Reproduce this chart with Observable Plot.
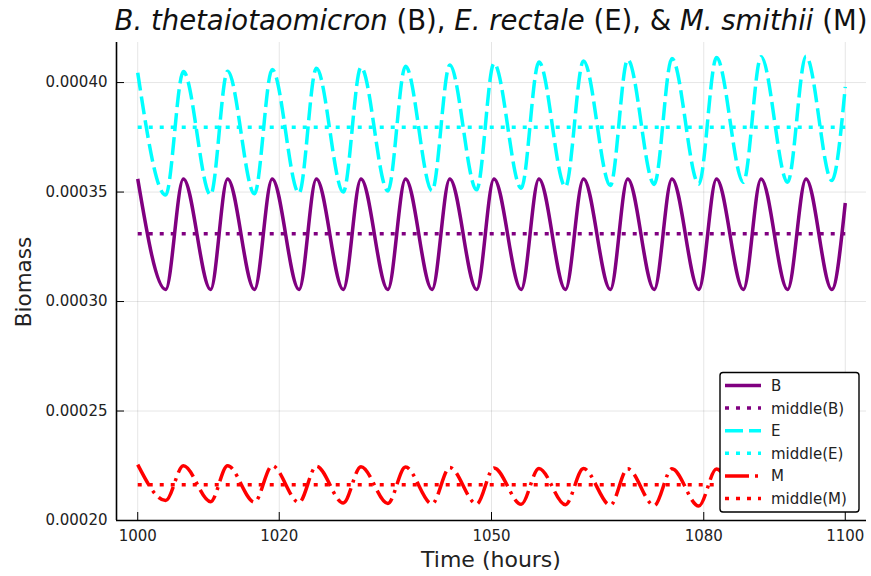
<!DOCTYPE html>
<html><head><meta charset="utf-8">
<script src="https://cdn.jsdelivr.net/npm/d3@7"></script>
<script src="https://cdn.jsdelivr.net/npm/@observablehq/plot@0.6"></script>
<style>body{margin:0;background:#fff} svg{display:block}</style>
</head><body><div id="chart"></div>
<script>
// Extrema times (hours), plus both ends
const hours = [1000, 1003.95, 1006.45, 1010.3, 1012.7, 1016.5, 1019.0, 1022.8, 1025.25, 1029.05, 1031.55, 1035.35, 1037.85, 1041.6, 1044.1, 1047.9, 1050.35, 1054.2, 1056.7, 1060.45, 1063.0, 1066.8, 1069.25, 1073.0, 1075.5, 1079.3, 1081.8, 1085.6, 1088.1, 1091.85, 1094.45, 1098.1, 1100];
const bBiomass = [0.000356, 0.0003055, 0.000356, 0.0003055, 0.000356, 0.0003055, 0.000356, 0.0003055, 0.000356, 0.0003055, 0.000356, 0.0003055, 0.000356, 0.0003055, 0.000356, 0.0003055, 0.000356, 0.0003055, 0.000356, 0.0003055, 0.000356, 0.0003055, 0.000356, 0.0003055, 0.000356, 0.0003055, 0.000356, 0.0003055, 0.000356, 0.0003055, 0.000356, 0.0003055, 0.000345];
const eBiomass = [0.0004045, 0.0003486, 0.000405, 0.0003487, 0.0004052, 0.0003492, 0.000406, 0.0003495, 0.0004065, 0.00035, 0.000407, 0.0003505, 0.0004075, 0.0003506, 0.000408, 0.000351, 0.0004088, 0.0003517, 0.0004094, 0.0003524, 0.0004099, 0.000353, 0.0004105, 0.0003535, 0.000411, 0.0003536, 0.0004114, 0.0003545, 0.0004118, 0.0003545, 0.000412, 0.0003553, 0.000398];
const mBiomass = [0.0002255, 0.0002091, 0.000225, 0.0002086, 0.000225, 0.0002084, 0.000225, 0.0002082, 0.0002248, 0.000208, 0.0002246, 0.0002078, 0.0002244, 0.0002076, 0.0002242, 0.0002075, 0.000224, 0.0002074, 0.0002238, 0.0002072, 0.0002237, 0.000207, 0.0002236, 0.0002068, 0.0002236, 0.0002066, 0.0002235, 0.0002065, 0.0002235, 0.0002065, 0.0002235, 0.0002065, 0.000221];
const middleB = 0.000331, middleE = 0.0003796, middleM = 0.0002163;
const xTicks = [1000, 1020, 1050, 1080, 1100];
const yTicks = [0.0002, 0.00025, 0.0003, 0.00035, 0.0004];
const seriesNames = ["B", "middle(B)", "E", "middle(E)", "M", "middle(M)"];
const seriesColors = ["#800080", "#800080", "#00ffff", "#00ffff", "#ff0000", "#ff0000"];
const seriesDash = [null, "4,7", "18,6", "4,7", "24,6,3,6", "4,7"];
const xDomain = [997, 1103];
const yDomain = [0.0002, 0.0004183];

const rows = (vals) => hours.map((h, i) => ({hour: h, biomass: vals[i]}));
const flat = (v) => [{hour: hours[0], biomass: v}, {hour: hours[hours.length - 1], biomass: v}];
const series = [rows(bBiomass), flat(middleB), rows(eBiomass), flat(middleE), rows(mBiomass), flat(middleM)];

const lineMarks = series.map((data, i) => Plot.line(data, {
  x: "hour", y: "biomass", stroke: seriesColors[i],
  strokeWidth: 3.5,
  strokeDasharray: seriesDash[i] || undefined,
  strokeLinecap: "butt",
  curve: i % 2 === 0 ? "monotone-x" : "linear"
}));

const chart = Plot.plot({
  width: 871, height: 576,
  marginLeft: 116, marginRight: 5, marginTop: 42, marginBottom: 56,
  x: {domain: xDomain, label: null},
  y: {domain: yDomain, label: null},
  style: {fontFamily: "DejaVu Sans", fontSize: "15px", color: "#222", background: "white"},
  marks: [
    Plot.gridX(xTicks, {stroke: "#000", strokeOpacity: 0.1, strokeWidth: 1}),
    Plot.gridY(yTicks, {stroke: "#000", strokeOpacity: 0.1, strokeWidth: 1}),
    ...lineMarks,
    Plot.ruleX([xDomain[0]], {stroke: "#000", strokeWidth: 1.6}),
    Plot.ruleY([yDomain[0]], {stroke: "#000", strokeWidth: 1.6}),
    Plot.axisX(xTicks, {tickSize: -8, tickPadding: 18, tickFormat: d => String(d), label: null, stroke: "#000", fill: "#222"}),
    Plot.axisY(yTicks, {tickSize: -8, tickPadding: 17, tickFormat: d => d.toFixed(5), label: null, stroke: "#000", fill: "#222"})
  ]
});
document.getElementById("chart").appendChild(chart);

const svg = d3.select(chart);
const FONT = "DejaVu Sans";
// Title
const title = svg.append("text").attr("x", 491).attr("y", 30).attr("text-anchor", "middle")
  .style("font-family", FONT).style("font-size", "27.5px").attr("fill", "#111");
[["B. thetaiotaomicron", true], [" (B), ", false], ["E. rectale", true], [" (E), & ", false], ["M. smithii", true], [" (M)", false]]
  .forEach(([t, it]) => title.append("tspan").attr("font-style", it ? "italic" : "normal").text(t));
// Axis labels
svg.append("text").attr("x", 491).attr("y", 567).attr("text-anchor", "middle")
  .style("font-family", FONT).style("font-size", "22px").attr("fill", "#222").text("Time (hours)");
svg.append("text").attr("transform", "translate(31,282) rotate(-90)").attr("text-anchor", "middle")
  .style("font-family", FONT).style("font-size", "21.5px").attr("fill", "#222").text("Biomass");
// Legend
const lg = svg.append("g");
lg.append("rect").attr("x", 720).attr("y", 372.5).attr("width", 139).attr("height", 139.5).attr("rx", 3)
  .attr("fill", "white").attr("stroke", "#000").attr("stroke-width", 1.4);
seriesNames.forEach((name, i) => {
  const cy = 385.5 + i * 22.6;
  lg.append("line").attr("x1", 725).attr("x2", 761).attr("y1", cy).attr("y2", cy)
    .attr("stroke", seriesColors[i]).attr("stroke-width", 3.5)
    .attr("stroke-dasharray", seriesDash[i]);
  lg.append("text").attr("x", 771).attr("y", cy).attr("dy", "0.36em").attr("text-anchor", "start")
    .style("font-family", FONT).style("font-size", "15px").attr("fill", "#222").text(name);
});
</script>
</body></html>
